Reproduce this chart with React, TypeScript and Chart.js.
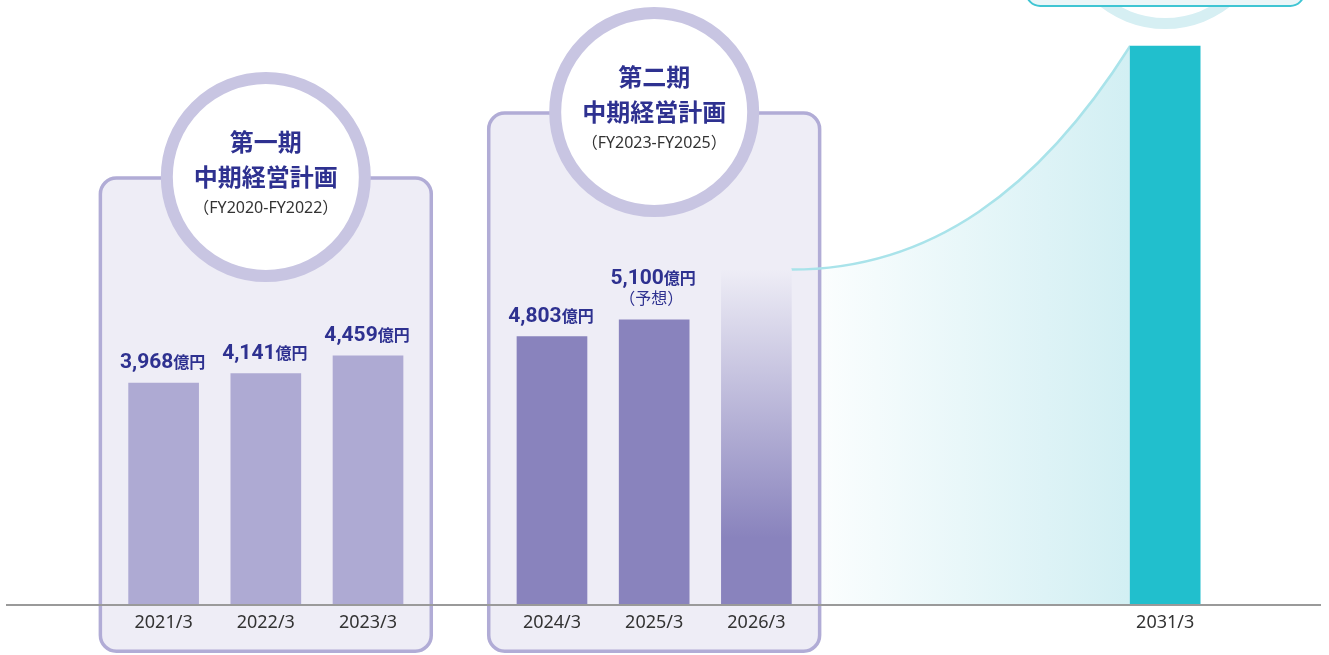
import React, { useEffect, useRef } from 'react';
import { Chart, registerables } from 'chart.js';

Chart.register(...registerables);

// ---- data ----
const categories = ['2021/3', '2022/3', '2023/3', '2024/3', '2025/3', '2026/3', '2031/3'];
const revenue = [3968, 4141, 4459, 4803, 5100, 6000, 10000];
const valueLabels = ['3,968', '4,141', '4,459', '4,803', '5,100', '', ''];
const valueUnit = '億円';
const valueNotes = ['', '', '', '', '（予想）', '', ''];
const planTitles = ['第一期', '第二期'];
const planSubtitle = '中期経営計画';
const planPeriods = ['（FY2020-FY2022）', '（FY2023-FY2025）'];
const planFirstBar = [0, 3];
const planLastBar = [2, 5];
const yMin = 0;
const yMax = 10000;

// ---- layout / style ----
const SLOT_OF_BAR = [0, 5, 10, 19, 24, 29, 49];
const SLOT_COUNT = 50;
const CIRCLE_CY = [177, 112];
const NAVY = '#2e3190';
const barColors = ['#aeaad3', '#aeaad3', '#aeaad3', '#8983bd', '#8983bd', '#8983bd', '#21bfcd'];

const slotLabels: string[] = Array.from({ length: SLOT_COUNT }, () => '');
const slotValues: (number | null)[] = Array.from({ length: SLOT_COUNT }, () => null);
categories.forEach((c, i) => {
  slotLabels[SLOT_OF_BAR[i]] = c;
  slotValues[SLOT_OF_BAR[i]] = revenue[i];
});

function barEl(chart: any, i: number) {
  return chart.getDatasetMeta(0).data[SLOT_OF_BAR[i]] as any;
}

function curvePath(ctx: CanvasRenderingContext2D, x0: number, y0: number, x3: number, y3: number) {
  const dx = x3 - x0;
  const dy = y0 - y3;
  ctx.moveTo(x0, y0);
  ctx.bezierCurveTo(x0 + 0.41 * dx, y0, x0 + 0.73 * dx, y0 - 0.354 * dy, x3, y3);
}

const decor = {
  id: 'decor',
  beforeDraw(chart: any) {
    const ctx: CanvasRenderingContext2D = chart.ctx;
    const ys = chart.scales.y;
    const base = ys.getPixelForValue(0);
    ctx.save();

    // top-right target circle + box (2031)
    const b7 = barEl(chart, 6);
    ctx.beginPath();
    ctx.arc(b7.x, -76, 99.5, 0, Math.PI * 2);
    ctx.fillStyle = '#ffffff';
    ctx.fill();
    ctx.lineWidth = 11;
    ctx.strokeStyle = '#d6eff3';
    ctx.stroke();
    ctx.beginPath();
    ctx.roundRect(b7.x - 139, -60, 278, 66, 14);
    ctx.fillStyle = '#eaf6f8';
    ctx.fill();
    ctx.lineWidth = 2;
    ctx.strokeStyle = '#3fc5d3';
    ctx.stroke();

    // growth area fill
    const b6 = barEl(chart, 5);
    const x0 = b6.x + b6.width / 2;
    const y0 = b6.y;
    const x3 = b7.x - b7.width / 2;
    const y3 = b7.y;
    const g = ctx.createLinearGradient(x0, 0, x3, 0);
    g.addColorStop(0, 'rgba(255,255,255,1)');
    g.addColorStop(1, '#d2eff3');
    ctx.beginPath();
    curvePath(ctx, x0, y0, x3, y3);
    ctx.lineTo(x3, base);
    ctx.lineTo(x0, base);
    ctx.closePath();
    ctx.fillStyle = g;
    ctx.fill();

    // panels
    for (let p = 0; p < planTitles.length; p++) {
      const bl = barEl(chart, planFirstBar[p]);
      const br = barEl(chart, planLastBar[p]);
      const lw = 3.5;
      const left = bl.x - bl.width / 2 - 30 + lw / 2;
      const right = br.x + br.width / 2 + 30 - lw / 2;
      const top = CIRCLE_CY[p] + 1;
      const bottom = 653 - lw / 2;
      ctx.beginPath();
      ctx.roundRect(left, top, right - left, bottom - top, 16);
      ctx.fillStyle = '#eeedf6';
      ctx.fill();
      ctx.lineWidth = lw;
      ctx.strokeStyle = '#b1acd6';
      ctx.stroke();
    }

    // circles with titles
    for (let p = 0; p < planTitles.length; p++) {
      const bm = barEl(chart, planFirstBar[p] + 1);
      const cx = bm.x;
      const cy = CIRCLE_CY[p];
      ctx.beginPath();
      ctx.arc(cx, cy, 99, 0, Math.PI * 2);
      ctx.fillStyle = '#ffffff';
      ctx.fill();
      ctx.lineWidth = 12;
      ctx.strokeStyle = '#c8c5e2';
      ctx.stroke();

      ctx.textAlign = 'center';
      ctx.textBaseline = 'middle';
      ctx.fillStyle = NAVY;
      ctx.font = 'bold 24px "Noto Sans CJK JP"';
      ctx.fillText(planTitles[p], cx, cy - 35);
      ctx.fillText(planSubtitle, cx, cy);
      ctx.fillStyle = '#333333';
      ctx.font = '16px "Noto Sans", "Noto Sans CJK JP"';
      ctx.fillText(planPeriods[p], cx, cy + 31);
    }
    ctx.restore();
  },
  beforeDatasetsDraw(chart: any) {
    const ctx: CanvasRenderingContext2D = chart.ctx;
    const b6 = barEl(chart, 5);
    const b7 = barEl(chart, 6);
    ctx.save();
    ctx.beginPath();
    curvePath(ctx, b6.x + b6.width / 2, b6.y, b7.x - b7.width / 2, b7.y);
    ctx.lineWidth = 2.5;
    ctx.strokeStyle = '#a9e3ea';
    ctx.stroke();
    ctx.restore();
  },
  afterDatasetsDraw(chart: any) {
    const ctx: CanvasRenderingContext2D = chart.ctx;
    const ys = chart.scales.y;
    const base = ys.getPixelForValue(0);
    ctx.save();
    // baseline
    ctx.beginPath();
    ctx.moveTo(6, base);
    ctx.lineTo(chart.width - 8, base);
    ctx.lineWidth = 2;
    ctx.strokeStyle = '#9a9a9a';
    ctx.stroke();

    // value labels
    ctx.textBaseline = 'alphabetic';
    ctx.fillStyle = NAVY;
    for (let i = 0; i < categories.length; i++) {
      if (!valueLabels[i]) continue;
      const b = barEl(chart, i);
      const numFont = 'bold 21px Roboto';
      const unitFont = 'bold 16px "Noto Sans CJK JP"';
      ctx.font = numFont;
      const wn = ctx.measureText(valueLabels[i]).width;
      ctx.font = unitFont;
      const wu = ctx.measureText(valueUnit).width;
      const start = b.x - 1 - (wn + wu) / 2;
      const baseY = valueNotes[i] ? b.y - 36 : b.y - 15;
      ctx.textAlign = 'left';
      ctx.font = numFont;
      ctx.fillText(valueLabels[i], start, baseY);
      ctx.font = unitFont;
      ctx.fillText(valueUnit, start + wn, baseY);
      if (valueNotes[i]) {
        ctx.textAlign = 'center';
        ctx.font = '16px "Noto Sans CJK JP"';
        ctx.fillText(valueNotes[i], b.x - 3, b.y - 16);
      }
    }
    ctx.restore();
  },
};

export default function App() {
  const ref = useRef<HTMLCanvasElement | null>(null);
  useEffect(() => {
    document.body.style.margin = '0';
    const canvas = ref.current!;
    const chart = new Chart(canvas, {
      type: 'bar',
      data: {
        labels: slotLabels,
        datasets: [
          {
            data: slotValues,
            barThickness: 70,
            clip: false,
            backgroundColor: (c: any) => {
              const i = SLOT_OF_BAR.indexOf(c.dataIndex);
              if (i === 5) {
                const ch = c.chart;
                if (!ch.chartArea) return barColors[5];
                const ys = ch.scales.y;
                const top = ys.getPixelForValue(revenue[5]);
                const bottom = ys.getPixelForValue(0);
                const g = ch.ctx.createLinearGradient(0, top, 0, bottom);
                g.addColorStop(0, '#eeedf6');
                g.addColorStop(0.8, '#8983bd');
                g.addColorStop(1, '#8983bd');
                return g;
              }
              return i >= 0 ? barColors[i] : 'transparent';
            },
          } as any,
        ],
      },
      options: {
        responsive: false,
        animation: false,
        layout: { padding: { top: 46, left: 153.4, right: 153.6, bottom: 0 } },
        plugins: { legend: { display: false }, tooltip: { enabled: false } },
        scales: {
          x: {
            type: 'category',
            offset: true,
            grid: { display: false, drawTicks: false },
            border: { display: false },
            ticks: {
              autoSkip: false,
              maxRotation: 0,
              minRotation: 0,
              padding: 7,
              color: '#333333',
              font: { family: '"Noto Sans"', size: 18 },
            },
            afterFit: (s: any) => {
              s.height = 50;
            },
          },
          y: {
            display: false,
            min: yMin,
            max: yMax,
          },
        },
      },
      plugins: [decor],
    });
    return () => chart.destroy();
  }, []);
  return (
    <div style={{ position: 'fixed', left: 0, top: 0, width: 1329, height: 655 }}>
      <canvas ref={ref} width={1329} height={655} style={{ width: 1329, height: 655, display: 'block' }} />
    </div>
  );
}
